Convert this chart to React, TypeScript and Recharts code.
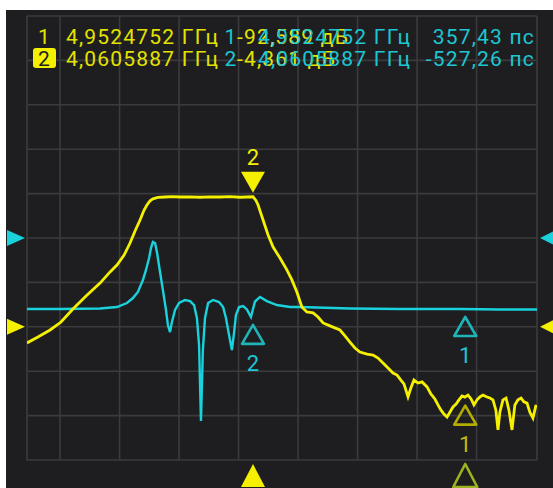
import React from 'react';
import { ComposedChart, Line, XAxis, YAxis, ReferenceDot, ReferenceLine } from 'recharts';

// ---- data (frequency in GHz) ----
const yellowFreqGHz = [
  3.111, 3.157, 3.208, 3.254, 3.3, 3.359, 3.418, 3.46, 3.489, 3.519, 3.544, 3.565, 3.586, 3.603, 3.615,
  3.628, 3.64, 3.661, 3.691, 3.72, 3.754, 3.796, 3.838, 3.88, 3.922, 3.964, 4.006, 4.035, 4.061, 4.073,
  4.082, 4.103, 4.124, 4.145, 4.174, 4.203, 4.224, 4.245, 4.266, 4.287, 4.313, 4.334, 4.355, 4.384, 4.426,
  4.447, 4.468, 4.489, 4.51, 4.54, 4.565, 4.586, 4.607, 4.628, 4.649, 4.666, 4.682, 4.695, 4.712, 4.724,
  4.737, 4.754, 4.771, 4.792, 4.808, 4.825, 4.838, 4.85, 4.863, 4.876, 4.888, 4.901, 4.914, 4.926, 4.939,
  4.951, 4.964, 4.977, 4.989, 5.002, 5.014, 5.027, 5.044, 5.056, 5.069, 5.081, 5.09, 5.098, 5.111, 5.124,
  5.136, 5.149, 5.161, 5.174, 5.187, 5.199, 5.212, 5.224, 5.237, 5.25,
];
const yellowDb = [
  -68.6, -66.0, -62.9, -59.4, -54.1, -48.0, -42.3, -37.4, -34.4, -30.0, -24.7, -19.4, -14.6, -10.2, -8.0,
  -6.2, -5.3, -4.7, -4.5, -4.3, -4.5, -4.4, -4.6, -4.4, -4.5, -4.3, -4.6, -4.5, -4.4, -6.0,
  -8.0, -14.6, -21.2, -26.5, -31.3, -36.5, -40.9, -46.2, -52.8, -55.0, -55.4, -57.2, -59.8, -61.1, -62.9,
  -65.5, -68.2, -70.8, -72.6, -73.5, -73.9, -75.2, -77.4, -79.6, -81.8, -82.7, -84.9, -86.6, -92.3, -88.4,
  -84.9, -86.2, -85.7, -87.9, -91.0, -93.2, -95.8, -98.0, -99.8, -101.1, -99.0, -96.7, -95.4, -93.6, -91.9,
  -92.4, -91.5, -93.2, -95.8, -93.6, -92.3, -91.5, -92.3, -92.8, -93.6, -98.0, -106.8, -99.0, -93.6, -92.8,
  -98.0, -106.8, -95.8, -93.6, -92.8, -94.5, -95.0, -99.0, -101.6, -95.8,
];
const cyanFreqGHz = [
  3.111, 3.25, 3.418, 3.489, 3.531, 3.556, 3.577, 3.598, 3.611, 3.624, 3.632, 3.64, 3.649, 3.657, 3.67,
  3.682, 3.695, 3.703, 3.712, 3.72, 3.733, 3.75, 3.775, 3.796, 3.813, 3.825, 3.834, 3.842, 3.85, 3.859,
  3.872, 3.893, 3.918, 3.935, 3.947, 3.96, 3.972, 3.981, 3.989, 4.002, 4.019, 4.035, 4.052, 4.069, 4.09,
  4.119, 4.161, 4.216, 4.258, 4.468, 4.678, 4.93, 5.098, 5.254,
];
const cyanDelayNs = [
  0.35, 0.35, 0.41, 0.58, 1.03, 1.59, 2.27, 3.62, 4.75, 6.1, 7.22, 7.9, 7.79, 6.77, 4.52,
  2.49, 0.24, -1.45, -2.24, -1.11, 0.24, 1.03, 1.37, 1.25, 0.8, -0.66, -3.7, -12.26, -4.26, -0.66,
  1.03, 1.37, 1.14, 0.58, -0.66, -2.57, -4.26, -2.35, -0.32, 0.58, 0.69, 0.3, -0.55, 1.2, 1.71,
  1.25, 0.8, 0.58, 0.58, 0.41, 0.35, 0.35, 0.3, 0.3,
];

const freqDomain = [3.111, 5.254];
const dbDomain = [-120, 75];
const nsDomain = [-16.65, 33.35];
const gridFreqTicks = [3.111, 3.25, 3.5, 3.75, 4.0, 4.25, 4.5, 4.75, 5.0, 5.254];
const gridDbTicks = [75, 55.5, 36, 16.5, -3, -22.5, -42, -61.5, -81, -100.5, -120];

const markerIds = ['1', '2'];
const markerFreqGHz = [4.9524752, 4.0605887];
const markerDb = [-92.589, -4.361];
const markerDelayNs = [0.35743, -0.52726];
const markerFreqText = ['4,9524752 ГГц', '4,0605887 ГГц'];
const markerDbText = ['-92,589 дБ', '-4,361 дБ'];
const markerDelayText = ['357,43 пс', '-527,26 пс'];

const yellowRefDb = -61.5;
const cyanRefNs = 8.35;

const yellowData = yellowFreqGHz.map((f, i) => ({ f, v: yellowDb[i] }));
const cyanData = cyanFreqGHz.map((f, i) => ({ f, v: cyanDelayNs[i] }));

const BG = '#1e1e20';
const GRID = '#3b3b3d';
const YEL = '#f4f000';
const CYA = '#19d2dc';
const YEL_TXT = '#e4e200';
const CYA_TXT = '#1cc6d2';
const FONT = 'Roboto, sans-serif';

const upHollow = (color: string, label: string, labelColor: string) => (p: any) => {
  const { cx, cy } = p;
  const t = cy + 8;
  return (
    <g>
      <polygon points={`${cx},${t} ${cx - 11},${t + 19} ${cx + 11},${t + 19}`} fill="none" stroke={color} strokeWidth={2.6} strokeLinejoin="round" />
      <text x={cx} y={t + 46} textAnchor="middle" fill={labelColor} fontSize={22} fontFamily={FONT}>{label}</text>
    </g>
  );
};

const downFilled = (color: string, label: string) => (p: any) => {
  const { cx, cy } = p;
  const t = cy - 4;
  return (
    <g>
      <polygon points={`${cx},${t} ${cx - 12},${t - 21} ${cx + 12},${t - 21}`} fill={color} />
      <text x={cx} y={t - 28} textAnchor="middle" fill={color} fontSize={22} fontFamily={FONT}>{label}</text>
    </g>
  );
};

const bottomTri = (color: string, filled: boolean) => (p: any) => {
  const { cx, cy } = p;
  const t = cy + 4;
  return (
    <polygon points={`${cx},${t} ${cx - 12},${t + 23} ${cx + 12},${t + 23}`} fill={filled ? color : 'none'} stroke={color} strokeWidth={filled ? 0 : 2.6} strokeLinejoin="round" />
  );
};

const leftTri = (color: string) => (p: any) => {
  const { cx, cy } = p;
  return <polygon points={`${cx - 2},${cy} ${cx - 20},${cy - 8} ${cx - 20},${cy + 8}`} fill={color} />;
};
const rightTri = (color: string) => (p: any) => {
  const { cx, cy } = p;
  return <polygon points={`${cx + 3},${cy} ${cx + 19},${cy - 8} ${cx + 19},${cy + 8}`} fill={color} />;
};

export default function App() {
  const W = 547;
  const H = 478;
  const rowY = [33.5, 55.5];
  return (
    <div style={{ position: 'absolute', left: 6, top: 10, width: W, height: H, background: BG, overflow: 'hidden' }}>
      <ComposedChart width={W} height={H} margin={{ top: 6, right: 16, bottom: 28, left: 21 }} style={{ overflow: 'visible' }}>
        <XAxis xAxisId="f" dataKey="f" type="number" domain={freqDomain} allowDataOverflow hide />
        <YAxis yAxisId="db" type="number" domain={dbDomain} hide allowDataOverflow />
        <YAxis yAxisId="ns" type="number" domain={nsDomain} hide allowDataOverflow />
        {gridFreqTicks.map((v) => (
          <ReferenceLine key={'gx' + v} xAxisId="f" yAxisId="db" x={v} stroke={GRID} strokeWidth={1.6} />
        ))}
        {gridDbTicks.map((v) => (
          <ReferenceLine key={'gy' + v} xAxisId="f" yAxisId="db" y={v} stroke={GRID} strokeWidth={1.6} />
        ))}
        <Line xAxisId="f" yAxisId="ns" data={cyanData} dataKey="v" type="linear" stroke={CYA} strokeWidth={2.4} dot={false} isAnimationActive={false} />
        <Line xAxisId="f" yAxisId="db" data={yellowData} dataKey="v" type="linear" stroke={YEL} strokeWidth={2.8} dot={false} isAnimationActive={false} />

        <ReferenceDot xAxisId="f" yAxisId="ns" x={markerFreqGHz[0]} y={markerDelayNs[0]} ifOverflow="visible" shape={upHollow('#1fb4b8', markerIds[0], CYA_TXT)} />
        <ReferenceDot xAxisId="f" yAxisId="ns" x={markerFreqGHz[1]} y={markerDelayNs[1]} ifOverflow="visible" shape={upHollow('#1fb4b8', markerIds[1], CYA_TXT)} />
        <ReferenceDot xAxisId="f" yAxisId="db" x={markerFreqGHz[0]} y={markerDb[0]} ifOverflow="visible" shape={upHollow('#b4ac00', markerIds[0], '#c4bc10')} />
        <ReferenceDot xAxisId="f" yAxisId="db" x={markerFreqGHz[1]} y={markerDb[1]} ifOverflow="visible" shape={downFilled(YEL, markerIds[1])} />

        <ReferenceDot xAxisId="f" yAxisId="db" x={markerFreqGHz[0]} y={dbDomain[0]} ifOverflow="visible" shape={bottomTri('#9cb41e', false)} />
        <ReferenceDot xAxisId="f" yAxisId="db" x={markerFreqGHz[1]} y={dbDomain[0]} ifOverflow="visible" shape={bottomTri(YEL, true)} />

        <ReferenceDot xAxisId="f" yAxisId="ns" x={freqDomain[0]} y={cyanRefNs} ifOverflow="visible" shape={leftTri(CYA)} />
        <ReferenceDot xAxisId="f" yAxisId="db" x={freqDomain[0]} y={yellowRefDb} ifOverflow="visible" shape={leftTri(YEL)} />
        <ReferenceDot xAxisId="f" yAxisId="ns" x={freqDomain[1]} y={cyanRefNs} ifOverflow="visible" shape={rightTri(CYA)} />
        <ReferenceDot xAxisId="f" yAxisId="db" x={freqDomain[1]} y={yellowRefDb} ifOverflow="visible" shape={rightTri(YEL)} />
      </ComposedChart>
      <svg width={W} height={H} style={{ position: 'absolute', left: 0, top: 0, pointerEvents: 'none' }}>
        <g fontFamily={FONT} fontSize={21} style={{ letterSpacing: '1.2px' }}>
          <rect x={27} y={38} width={23} height={20} rx={3} fill={YEL} />
          {markerIds.map((id, i) => (
            <g key={id}>
              <text x={38.5} y={rowY[i]} textAnchor="middle" fill={i === 1 ? '#1e1e20' : YEL_TXT}>{id}</text>
              <text x={60} y={rowY[i]} fill={YEL_TXT}>{markerFreqText[i]}</text>
              <text x={231} y={rowY[i]} fill={YEL_TXT}>{markerDbText[i]}</text>
              <text x={225} y={rowY[i]} textAnchor="middle" fill={CYA_TXT}>{id}</text>
              <text x={252} y={rowY[i]} fill={CYA_TXT}>{markerFreqText[i]}</text>
              <text x={529} y={rowY[i]} textAnchor="end" fill={CYA_TXT}>{markerDelayText[i]}</text>
            </g>
          ))}
        </g>
      </svg>
    </div>
  );
}
